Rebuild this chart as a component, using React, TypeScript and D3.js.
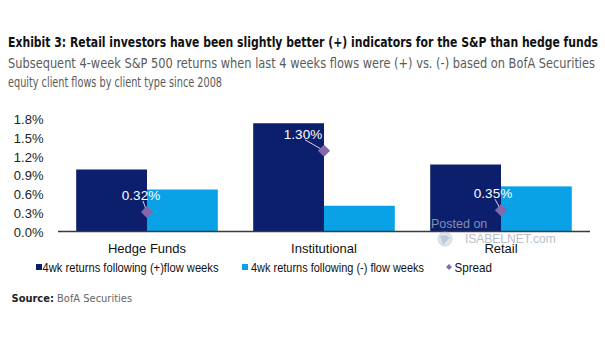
import React from "react";
import * as d3 from "d3";

const categories = ["Hedge Funds", "Institutional", "Retail"];
const positiveFlowReturns = [1.0, 1.74, 1.08];
const negativeFlowReturns = [0.68, 0.42, 0.73];
const spreadValues = [0.32, 1.3, 0.35];
const spreadLabels = ["0.32%", "1.30%", "0.35%"];
const yTicks = [0, 0.3, 0.6, 0.9, 1.2, 1.5, 1.8];
const legendLabels = [
  "4wk returns following (+)flow weeks",
  "4wk returns following (-) flow weeks",
  "Spread",
];

const W = 605;
const H = 341;
const DARK = "#0b1f6c";
const LIGHT = "#0aa2e6";
const PURPLE = "#8567ad";
const NARROW = "'Liberation Sans Narrow', 'DejaVu Sans Condensed', 'Roboto Condensed', Arial, sans-serif";
const ARIAL = "'Liberation Sans', Arial, Helvetica, sans-serif";

// label offsets relative to diamond (style only)
const labelDx = [-6, -21, -8];

export default function App() {
  const x = d3
    .scaleBand<string>()
    .domain(categories)
    .range([58.5, 589.5])
    .paddingInner(0.2)
    .paddingOuter(0.1);
  const y = d3.scaleLinear().domain([0, 1.8]).range([232, 119.5]);
  const bw = x.bandwidth();
  const half = bw / 2;

  const diamond = d3.symbol().type(d3.symbolDiamond2).size(95)();
  const legendDiamond = d3.symbol().type(d3.symbolDiamond2).size(22)();

  return (
    <svg
      width={W}
      height={H}
      viewBox={`0 0 ${W} ${H}`}
      style={{ position: "absolute", left: 0, top: 0, background: "#fff" }}
    >
      <rect width={W} height={H} fill="#fff" />
      {/* Title */}
      <text
        x={8}
        y={47}
        fontFamily={NARROW}
        fontWeight="bold"
        fontSize={14}
        fill="#111"
        textLength={590}
        lengthAdjust="spacingAndGlyphs"
      >
        Exhibit 3: Retail investors have been slightly better (+) indicators for the S&amp;P than hedge funds
      </text>
      <text
        x={8}
        y={67.5}
        fontFamily={NARROW}
        fontSize={13.5}
        fill="#5a5a5a"
        textLength={587}
        lengthAdjust="spacingAndGlyphs"
      >
        Subsequent 4-week S&amp;P 500 returns when last 4 weeks flows were (+) vs. (-) based on BofA Securities
      </text>
      <text
        x={8}
        y={87}
        fontFamily={NARROW}
        fontSize={13.5}
        fill="#5a5a5a"
        textLength={214}
        lengthAdjust="spacingAndGlyphs"
      >
        equity client flows by client type since 2008
      </text>

      {/* Y ticks */}
      {yTicks.map((t) => (
        <text
          key={t}
          x={43.5}
          y={y(t)}
          dy="0.36em"
          textAnchor="end"
          fontFamily={ARIAL}
          fontSize={13}
          fill="#222"
        >
          {t.toFixed(1)}%
        </text>
      ))}

      {/* Bars */}
      {categories.map((c, i) => (
        <g key={c}>
          <rect
            x={x(c)!}
            y={y(positiveFlowReturns[i])}
            width={half}
            height={y(0) - y(positiveFlowReturns[i])}
            fill={DARK}
          />
          <rect
            x={x(c)! + half}
            y={y(negativeFlowReturns[i])}
            width={half}
            height={y(0) - y(negativeFlowReturns[i])}
            fill={LIGHT}
          />
        </g>
      ))}

      {/* Watermark */}
      <text x={431} y={228} fontFamily={ARIAL} fontSize={12.5} fill="#8f9db8" opacity={0.9}>
        Posted on
      </text>

      {/* Axis line */}
      <line x1={58} x2={590} y1={231.5} y2={231.5} stroke="#3a3a3a" strokeWidth={1.5} />

      {/* Category labels */}
      {categories.map((c) => (
        <text
          key={c}
          x={x(c)! + half}
          y={253}
          textAnchor="middle"
          fontFamily={ARIAL}
          fontSize={13}
          fill="#111"
        >
          {c}
        </text>
      ))}

      {/* watermark logo text */}
      <g opacity={0.55}>
        <circle cx={445} cy={239} r={7} fill="#c9d3df" stroke="#a9b6c6" />
        <path d="M440,236 Q446,233 450,238 Q446,241 443,245 Z" fill="#8aa0ba" />
        <text x={465} y={243} fontFamily={ARIAL} fontSize={12} fill="#7d8a9c">
          ISABELNET.com
        </text>
      </g>

      {/* Spread points with labels */}
      {categories.map((c, i) => {
        const cx = x(c)! + half;
        const cy = y(spreadValues[i]);
        const lx = cx + labelDx[i];
        const ly = cy - 12;
        return (
          <g key={c}>
            <line
              x1={lx + 2}
              y1={ly + 1}
              x2={cx}
              y2={cy}
              stroke="#d8d2ea"
              strokeWidth={1}
            />
            <path d={diamond!} transform={`translate(${cx},${cy})`} fill={PURPLE} />
            <text
              x={lx}
              y={ly}
              textAnchor="middle"
              fontFamily={ARIAL}
              fontSize={13.5}
              fill="#fff"
            >
              {spreadLabels[i]}
            </text>
          </g>
        );
      })}

      {/* Legend */}
      <rect x={36} y={264} width={6} height={6} fill={DARK} />
      <text
        x={42.5}
        y={271.5}
        fontFamily={ARIAL}
        fontSize={13.5}
        fill="#111"
        textLength={176}
        lengthAdjust="spacingAndGlyphs"
      >
        {legendLabels[0]}
      </text>
      <rect x={242} y={264} width={6} height={6} fill={LIGHT} />
      <text
        x={251}
        y={271.5}
        fontFamily={ARIAL}
        fontSize={13.5}
        fill="#111"
        textLength={173}
        lengthAdjust="spacingAndGlyphs"
      >
        {legendLabels[1]}
      </text>
      <path d={legendDiamond!} transform="translate(449,267)" fill={PURPLE} />
      <text x={454.5} y={271.5} fontFamily={ARIAL} fontSize={13.5} fill="#111" textLength={37.5} lengthAdjust="spacingAndGlyphs">
        {legendLabels[2]}
      </text>

      {/* Source */}
      <text x={11.5} y={302} fontFamily={NARROW} fontSize={11} fill="#222">
        <tspan fontWeight="bold">Source:</tspan>
        <tspan fill="#666"> BofA Securities</tspan>
      </text>
    </svg>
  );
}
